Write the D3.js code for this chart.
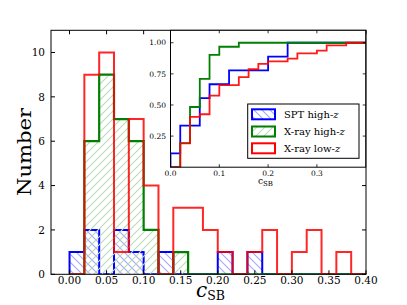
<!DOCTYPE html>
<html><head><meta charset="utf-8">
<script src="https://cdnjs.cloudflare.com/ajax/libs/d3/7.8.5/d3.min.js"></script>
<style>
html,body{margin:0;padding:0;background:#fff;}
svg{display:block;}
text{font-family:"DejaVu Serif",serif;fill:#000;}
</style></head>
<body>
<script>
// ---- data ----
const binEdges = [0.00,0.02,0.04,0.06,0.08,0.10,0.12,0.14,0.16,0.18,0.20,0.22,0.24,0.26,0.28,0.30,0.32,0.34,0.36,0.38,0.40];
const sptHighZ  = [1,2,0,2,1,0,1,0,0,0,1,0,1,0,0,0,0,0,0,0];
const xrayHighZ = [0,6,9,7,6,2,0,1,0,0,0,0,0,0,0,0,0,0,0,0];
const xrayLowZ  = [0,9,10,1,7,4,0,3,3,2,1,0,1,2,0,1,2,0,1,0];
const xTicks = [0.00,0.05,0.10,0.15,0.20,0.25,0.30,0.35,0.40];
const yTicks = [0,2,4,6,8,10];
const insetXTicks = [0.0,0.1,0.2,0.3];
const insetYTicks = [0.25,0.50,0.75,1.00];
const seriesNames = ["SPT high-", "X-ray high-", "X-ray low-"];

const W = 407, H = 305;
const svg = d3.select("body").append("svg").attr("width", W).attr("height", H);
const defs = svg.append("defs");

// hatch patterns
function hatch(id, color, dir) {
  const p = defs.append("pattern").attr("id", id).attr("patternUnits", "userSpaceOnUse")
    .attr("width", 8).attr("height", 8);
  if (dir === "/") {
    p.append("path").attr("d", "M-2,2 L2,-2 M0,8 L8,0 M6,10 L10,6");
  } else {
    p.append("path").attr("d", "M-2,6 L2,10 M0,0 L8,8 M6,-2 L10,2");
  }
  p.select("path").attr("stroke", color).attr("stroke-width", 1.1).attr("fill", "none");
}
hatch("hBlue", "#a6a6ff", "\\");
hatch("hGreen", "#b8dcb8", "/");

// main scales
const x = d3.scaleLinear().domain([-0.025, 0.4]).range([51, 366]);
const y = d3.scaleLinear().domain([0, 11]).range([274.3, 30.3]);

defs.append("clipPath").attr("id", "mainClip").append("rect")
  .attr("x", x.range()[0]).attr("y", y.range()[1])
  .attr("width", x.range()[1] - x.range()[0]).attr("height", y.range()[0] - y.range()[1]);

function stepPoints(counts) {
  const pts = [[binEdges[0], 0]];
  counts.forEach((c, i) => { pts.push([binEdges[i], c]); pts.push([binEdges[i + 1], c]); });
  pts.push([binEdges[binEdges.length - 1], 0]);
  return pts;
}
const line = d3.line().x(d => x(d[0])).y(d => y(d[1]));

const g = svg.append("g").attr("clip-path", "url(#mainClip)");
function drawHist(counts, color, fill, width, opacity) {
  const pts = stepPoints(counts);
  if (fill) g.append("path").attr("d", line(pts) + "Z").attr("fill", fill).attr("stroke", "none");
  g.append("path").attr("d", line(pts)).attr("fill", "none").attr("stroke", color)
    .attr("stroke-width", width).attr("stroke-opacity", opacity).attr("stroke-linejoin", "miter");
}
// blue outline first, then green hatch over it, then green outline, then red
const bluePts = stepPoints(sptHighZ);
g.append("path").attr("d", line(bluePts) + "Z").attr("fill", "url(#hBlue)");
g.append("path").attr("d", line(bluePts)).attr("fill", "none").attr("stroke", "#0000ff").attr("stroke-width", 2);
const greenPts = stepPoints(xrayHighZ);
g.append("path").attr("d", line(greenPts) + "Z").attr("fill", "url(#hGreen)");
g.append("path").attr("d", line(greenPts)).attr("fill", "none").attr("stroke", "#007f00").attr("stroke-width", 2.2);
drawHist(xrayLowZ, "#ff0000", null, 2, 0.85);

// main frame
svg.append("rect").attr("x", x.range()[0]).attr("y", y.range()[1])
  .attr("width", x.range()[1] - x.range()[0]).attr("height", y.range()[0] - y.range()[1])
  .attr("fill", "none").attr("stroke", "#000").attr("stroke-width", 1);

// main ticks (inward, all sides)
const tl = 4;
const ticks = svg.append("g").attr("stroke", "#000").attr("stroke-width", 1);
xTicks.forEach(t => {
  ticks.append("line").attr("x1", x(t)).attr("x2", x(t)).attr("y1", y(0)).attr("y2", y(0) - tl);
  ticks.append("line").attr("x1", x(t)).attr("x2", x(t)).attr("y1", y(11)).attr("y2", y(11) + tl);
});
yTicks.forEach(t => {
  ticks.append("line").attr("x1", x(-0.025)).attr("x2", x(-0.025) + tl).attr("y1", y(t)).attr("y2", y(t));
  ticks.append("line").attr("x1", x(0.4)).attr("x2", x(0.4) - tl).attr("y1", y(t)).attr("y2", y(t));
});
svg.append("g").selectAll("text").data(xTicks).join("text")
  .attr("x", d => x(d)).attr("y", 284).attr("text-anchor", "middle")
  .attr("font-size", 10.5).text(d => d3.format(".2f")(d));
svg.append("g").selectAll("text").data(yTicks).join("text")
  .attr("x", 45).attr("y", d => y(d)).attr("dy", "0.36em").attr("text-anchor", "end")
  .attr("font-size", 10.5).text(d => d);

// axis labels
svg.append("text").attr("transform", "translate(31,152) rotate(-90)")
  .attr("text-anchor", "middle").attr("font-size", 19)
  .attr("textLength", 88).attr("lengthAdjust", "spacingAndGlyphs").text("Number");
const xl = svg.append("text").attr("x", 196).attr("y", 297);
xl.append("tspan").attr("font-style", "italic").attr("font-size", 20).text("c");
xl.append("tspan").attr("font-size", 12.5).attr("dy", 3).text("SB");

// ---- inset ----
const ix = d3.scaleLinear().domain([0, 0.4]).range([170.5, 365.7]);
const iy = d3.scaleLinear().domain([0, 1.1]).range([167.2, 30.3]);
svg.append("rect").attr("x", ix.range()[0]).attr("y", iy.range()[1])
  .attr("width", ix.range()[1] - ix.range()[0]).attr("height", iy.range()[0] - iy.range()[1])
  .attr("fill", "#fff");
defs.append("clipPath").attr("id", "insetClip").append("rect")
  .attr("x", ix.range()[0]).attr("y", iy.range()[1])
  .attr("width", ix.range()[1] - ix.range()[0]).attr("height", iy.range()[0] - iy.range()[1]);
const ig = svg.append("g").attr("clip-path", "url(#insetClip)");
const iline = d3.line().x(d => ix(d[0])).y(d => iy(d[1]));
function cdfPoints(counts) {
  const total = d3.sum(counts);
  const cum = d3.cumsum(counts);
  const pts = [[binEdges[0], 0]];
  counts.forEach((c, i) => {
    const v = cum[i] / total;
    pts.push([binEdges[i], v]); pts.push([binEdges[i + 1], v]);
  });
  return pts;
}
[[sptHighZ, "#0000ff"], [xrayHighZ, "#007f00"], [xrayLowZ, "#ff0000"]].forEach(([c, col]) => {
  ig.append("path").attr("d", iline(cdfPoints(c))).attr("fill", "none")
    .attr("stroke", col).attr("stroke-width", 1.8).attr("stroke-opacity", col === "#ff0000" ? 0.9 : 1);
});
svg.append("rect").attr("x", ix.range()[0]).attr("y", iy.range()[1])
  .attr("width", ix.range()[1] - ix.range()[0]).attr("height", iy.range()[0] - iy.range()[1])
  .attr("fill", "none").attr("stroke", "#000").attr("stroke-width", 1);
const itl = 3;
const iticks = svg.append("g").attr("stroke", "#000").attr("stroke-width", 0.8);
insetXTicks.forEach(t => {
  iticks.append("line").attr("x1", ix(t)).attr("x2", ix(t)).attr("y1", iy(0)).attr("y2", iy(0) - itl);
  iticks.append("line").attr("x1", ix(t)).attr("x2", ix(t)).attr("y1", iy(1.1)).attr("y2", iy(1.1) + itl);
});
insetYTicks.forEach(t => {
  iticks.append("line").attr("x1", ix(0)).attr("x2", ix(0) + itl).attr("y1", iy(t)).attr("y2", iy(t));
  iticks.append("line").attr("x1", ix(0.4)).attr("x2", ix(0.4) - itl).attr("y1", iy(t)).attr("y2", iy(t));
});
svg.append("g").selectAll("text").data(insetXTicks).join("text")
  .attr("x", d => ix(d)).attr("y", 176).attr("text-anchor", "middle")
  .attr("font-size", 7.5).text(d => d3.format(".1f")(d));
svg.append("g").selectAll("text").data(insetYTicks).join("text")
  .attr("x", 166).attr("y", d => iy(d)).attr("dy", "0.36em").attr("text-anchor", "end")
  .attr("font-size", 7.5).text(d => d3.format(".2f")(d));
const ixl = svg.append("text").attr("x", 258).attr("y", 184);
ixl.append("tspan").attr("font-size", 9).text("c");
ixl.append("tspan").attr("font-size", 7).attr("dy", 2).text("SB");

// ---- legend ----
const lg = svg.append("g");
lg.append("rect").attr("x", 247.7).attr("y", 104).attr("width", 111.3).attr("height", 54.3)
  .attr("fill", "#fff").attr("stroke", "#000").attr("stroke-width", 1);
const legendRows = [
  {name: seriesNames[0], col: "#0000ff", fill: "url(#hBlue)", cy: 114.3},
  {name: seriesNames[1], col: "#007f00", fill: "url(#hGreen)", cy: 131.5},
  {name: seriesNames[2], col: "#ff0000", fill: "#fff", cy: 148.3}
];
legendRows.forEach(r => {
  lg.append("rect").attr("x", 252).attr("y", r.cy - 5).attr("width", 23).attr("height", 10)
    .attr("fill", r.fill).attr("stroke", r.col).attr("stroke-width", 2);
  const t = lg.append("text").attr("x", 284).attr("y", r.cy).attr("dy", "0.35em").attr("font-size", 10);
  t.append("tspan").text(r.name);
  t.append("tspan").attr("font-style", "italic").text("z");
});
</script>
</body></html>
